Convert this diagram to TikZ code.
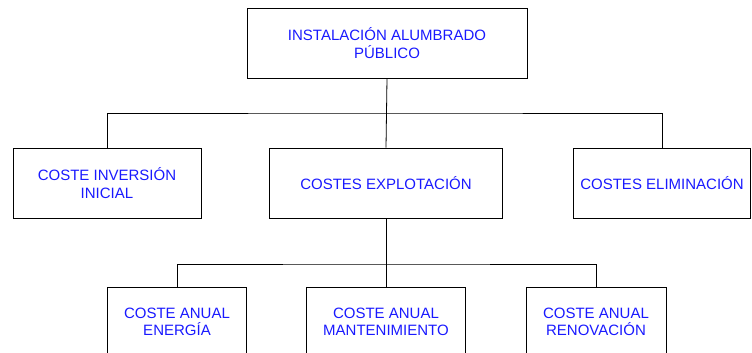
\documentclass[tikz,border=0pt]{standalone}
\usepackage{fontspec}
\setmainfont{Liberation Sans}
\definecolor{textoazul}{RGB}{25,25,255}

\begin{document}
\begin{tikzpicture}[x=1pt,y=-1pt,
    caja/.style={draw,line width=0.8pt,align=center,text=textoazul,
      font=\fontsize{15}{17.5}\selectfont,minimum height=70pt,inner sep=0pt},
    enlace/.style={line width=0.8pt}]
      \useasboundingbox (0,0) rectangle (752,353);
      \clip (0,0) rectangle (752,353);

      \node[caja,minimum width=280pt] (instalacion) at (387,43) {INSTALACIÓN ALUMBRADO\\PÚBLICO};

      \node[caja,minimum width=188pt] (inversion) at (107,183) {COSTE INVERSIÓN\\INICIAL};
      \node[caja,minimum width=233pt] (explotacion) at (386,183) {COSTES EXPLOTACIÓN};
      \node[caja,minimum width=177pt] (eliminacion) at (662,183) {COSTES ELIMINACIÓN};

      \node[caja,minimum width=139pt] (energia) at (177,322) {COSTE ANUAL\\ENERGÍA};
      \node[caja,minimum width=159pt] (mantenimiento) at (386,322) {COSTE ANUAL\\MANTENIMIENTO};
      \node[caja,minimum width=140pt] (renovacion) at (596,322) {COSTE ANUAL\\RENOVACIÓN};

      \coordinate (bus1) at (386,113);
      \coordinate (bus2) at (386,264);

      \draw[enlace] (instalacion.south) -- (explotacion.north);
      \draw[enlace] (inversion.north) |- (bus1) -| (eliminacion.north);
      \draw[enlace] (explotacion.south) -- (mantenimiento.north);
      \draw[enlace] (energia.north) |- (bus2) -| (renovacion.north);
\end{tikzpicture}
\end{document}
